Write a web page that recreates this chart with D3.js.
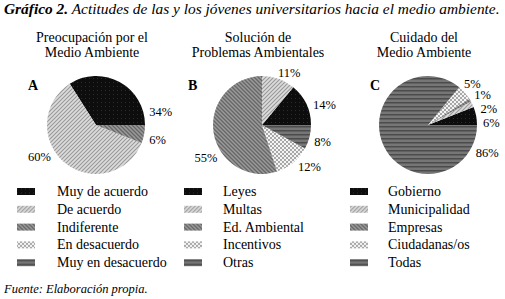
<!DOCTYPE html>
<meta charset="utf-8">
<script src='https://d3js.org/d3.v7.min.js'></script>
<style>body{margin:0;background:#fff;} text{font-family:'Liberation Serif','Times New Roman',serif;fill:#000;}</style>
<svg id='chart'></svg>
<script>
// chart data
var chartTitle=['Gráfico 2.',' Actitudes de las y los jóvenes universitarios hacia el medio ambiente.'],
    source='Fuente: Elaboración propia.',
    panelTitles=[['Preocupación por el','Medio Ambiente'],['Solución de','Problemas Ambientales'],['Cuidado del','Medio Ambiente']],
    panelLetters=['A','B','C'];
var catsA=['Muy de acuerdo','De acuerdo','Indiferente','En desacuerdo','Muy en desacuerdo'],
    valsA=[34,60,6,0,0];
var catsB=['Leyes','Multas','Ed. Ambiental','Incentivos','Otras'],
    valsB=[14,11,55,12,8];
var catsC=['Gobierno','Municipalidad','Empresas','Ciudadanas/os','Todas'],
    valsC=[6,2,1,5,86];

// layout
var W=505,H=299,r=49,cy=125,labR=55,
    panels=[{cx:96,lx:28,sw:17,tx:57,cats:catsA,vals:valsA,lab:[76,235,105,0,0]},
            {cx:262,lx:188,sw:184,tx:223,cats:catsB,vals:valsB,lab:[68,17,234,139,108]},
            {cx:428,lx:370,sw:350,tx:388,cats:catsC,vals:valsC,lab:[87,73,57,41,120]}];

var svg=d3.select('#chart').attr('width',W).attr('height',H);
var defs=svg.append('defs');
function pat(id,bg,draw){
  var p=defs.append('pattern').attr('id',id).attr('patternUnits','userSpaceOnUse')
            .attr('width',4).attr('height',4);
  p.append('rect').attr('width',4).attr('height',4).attr('fill',bg);
  draw(p);}
pat('p0','#0d0d0d',function(p){p.append('rect').attr('x',1).attr('y',1).attr('width',1).attr('height',1).attr('fill','#2c2c2c');});
pat('p1','#dcdcdc',function(p){p.append('path').attr('d','M-1,1L1,-1M0,4L4,0M3,5L5,3').attr('stroke','#999').attr('stroke-width',1.1);});
pat('p2','#9a9a9a',function(p){p.append('path').attr('d','M-1,3L1,5M0,0L4,4M3,-1L5,1').attr('stroke','#666',).attr('stroke-width',1.3);});
pat('p3','#f4f4f4',function(p){p.append('rect').attr('width',2).attr('height',2).attr('fill','#a8a8a8');
                              p.append('rect').attr('x',2).attr('y',2).attr('width',2).attr('height',2).attr('fill','#a8a8a8');});
pat('p4','#767676',function(p){p.append('rect').attr('y',1).attr('width',4).attr('height',1.5).attr('fill','#4c4c4c');});
var fills=['url(#p0)','url(#p1)','url(#p2)','url(#p3)','url(#p4)'];

var t=svg.append('text').attr('x',4).attr('y',14).style('font-size','15.4px').style('font-style','italic');
t.append('tspan').style('font-weight','bold').text(chartTitle[0]);
t.append('tspan').text(chartTitle[1]);

var pie=d3.pie().sort(null).startAngle(Math.PI/2).endAngle(Math.PI/2-2*Math.PI),
    arc=d3.arc().innerRadius(0).outerRadius(r);

panels.forEach(function(pn,i){
  var g=svg.append('g');
  g.selectAll('text.tt').data(panelTitles[i]).enter().append('text')
   .attr('x',pn.cx-4).attr('y',function(d,j){return 42+j*15;})
   .attr('text-anchor','middle').style('font-size','14px').text(function(d){return d;});
  g.append('text').attr('x',pn.lx).attr('y',90).style('font-size','14px').style('font-weight','bold').text(panelLetters[i]);
  var pg=g.append('g').attr('transform','translate('+pn.cx+','+cy+')');
  var arcs=pie(pn.vals);
  pg.selectAll('path').data(arcs).enter().append('path')
    .attr('d',arc).attr('fill',function(d,j){return fills[j];});
  pg.selectAll('text').data(arcs.filter(function(d){return d.value>0;})).enter().append('text')
    .each(function(d){
      var a=pn.lab[d.index]*Math.PI/180,x=labR*Math.sin(a),y=-labR*Math.cos(a);
      d3.select(this).attr('x',x).attr('y',y).attr('dy','0.35em')
        .attr('text-anchor',x>=0?'start':'end');})
    .style('font-size','12.5px').text(function(d){return d.value+'%';});
  var lg=g.selectAll('g.lg').data(pn.cats).enter().append('g')
          .attr('transform',function(d,j){return 'translate(0,'+(191.5+j*17.8)+')';});
  lg.append('rect').attr('x',pn.sw).attr('y',-3.5).attr('width',18).attr('height',7)
    .attr('fill',function(d,j){return fills[j];});
  lg.append('text').attr('x',pn.tx).attr('y',4.5).style('font-size','14px').text(function(d){return d;});
});

svg.append('text').attr('x',4).attr('y',293).style('font-size','12.5px').style('font-style','italic').text(source);
</script>
